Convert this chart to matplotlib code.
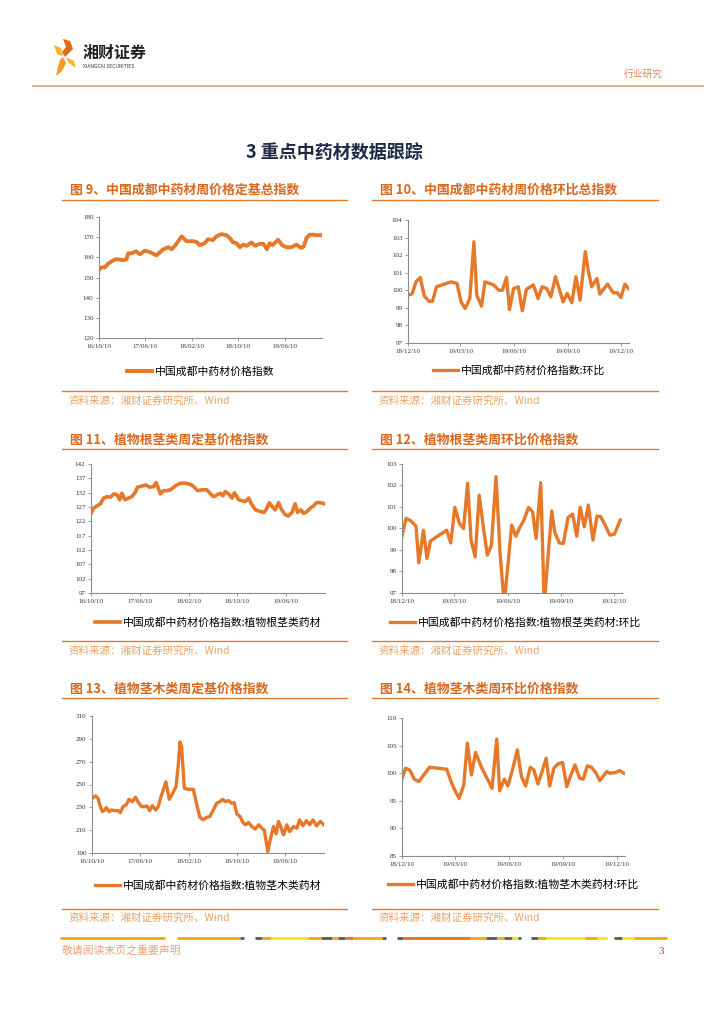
import matplotlib
matplotlib.use("Agg")
import matplotlib.pyplot as plt
import matplotlib.dates as mdates
from matplotlib.patches import Polygon
import pandas as pd

plt.rcParams['font.family'] = ['Noto Sans CJK SC', 'DejaVu Sans']

# ---------------- 数据 ----------------
# 图9 中国成都中药材周价格定基总指数
c9_dates = ['2016-10-10', '2016-10-24', '2016-11-10', '2016-11-28', '2016-12-15', '2017-01-02',
            '2017-01-20', '2017-02-15', '2017-03-03', '2017-03-12', '2017-03-29', '2017-04-21',
            '2017-05-12', '2017-06-07', '2017-07-03', '2017-08-07', '2017-09-12', '2017-10-08',
            '2017-10-25', '2017-11-12', '2017-12-17', '2018-01-12', '2018-02-17', '2018-03-07',
            '2018-03-21', '2018-04-17', '2018-05-04', '2018-05-30', '2018-06-17', '2018-07-13',
            '2018-08-08', '2018-08-26', '2018-09-12', '2018-09-30', '2018-10-18', '2018-11-04',
            '2018-11-22', '2018-12-18', '2019-01-05', '2019-01-28', '2019-02-18', '2019-03-09',
            '2019-03-23', '2019-04-06', '2019-05-06', '2019-05-28', '2019-06-18', '2019-07-14',
            '2019-08-10', '2019-09-05', '2019-09-18', '2019-10-02', '2019-10-19', '2019-11-06',
            '2019-11-23', '2019-12-19']
c9_vals = [153.8, 155, 155, 157, 158, 159, 159, 158.6, 159, 162,
           162, 163, 161.5, 163.3, 162.6, 161, 164, 165, 164, 165.7,
           170.4, 168, 168, 167.5, 166, 167, 169, 168.6, 170.4, 171.5,
           171, 169.6, 167.4, 167, 165, 166.3, 165.7, 167.4, 165.7, 166.7,
           166.7, 164, 167, 166, 168.7, 166, 165, 165, 166.3, 164.6,
           165.5, 169.6, 171.2, 171.2, 171, 171]

# 图10 中国成都中药材周价格环比总指数
c10_dates = ['2018-12-10', '2018-12-17', '2018-12-24', '2018-12-31', '2019-01-07', '2019-01-15',
             '2019-01-21', '2019-01-28', '2019-02-22', '2019-03-04', '2019-03-11', '2019-03-18',
             '2019-03-26', '2019-04-02', '2019-04-07', '2019-04-15', '2019-04-21', '2019-04-29',
             '2019-05-06', '2019-05-15', '2019-05-21', '2019-05-28', '2019-06-02', '2019-06-09',
             '2019-06-17', '2019-06-24', '2019-07-01', '2019-07-13', '2019-07-21', '2019-07-28',
             '2019-08-05', '2019-08-12', '2019-08-20', '2019-09-02', '2019-09-09', '2019-09-17',
             '2019-09-24', '2019-10-01', '2019-10-10', '2019-10-15', '2019-10-21', '2019-10-30',
             '2019-11-04', '2019-11-17', '2019-11-27', '2019-12-04', '2019-12-10', '2019-12-17',
             '2019-12-23']
c10_vals = [99.72, 99.8, 100.5, 100.73, 99.67, 99.38, 99.38, 100.2, 100.48, 100.39,
            99.34, 98.96, 99.53, 102.76, 99.72, 99.1, 100.48, 100.39, 100.3, 100.0,
            100.0, 100.73, 98.9, 100.1, 100.2, 98.83, 100.05, 100.3, 99.53, 100.2,
            100.1, 99.63, 100.77, 99.34, 99.82, 99.29, 100.77, 99.44, 102.2, 101.15,
            100.2, 100.67, 99.78, 100.35, 99.86, 99.86, 99.59, 100.35, 100.1]

# 图11 植物根茎类周定基价格指数
c11_dates = ['2016-10-10', '2016-10-23', '2016-11-09', '2016-11-26', '2016-12-12', '2016-12-29',
             '2017-01-15', '2017-02-01', '2017-02-18', '2017-03-02', '2017-03-13', '2017-03-29',
             '2017-04-15', '2017-05-02', '2017-05-18', '2017-05-30', '2017-06-21', '2017-07-12',
             '2017-07-29', '2017-08-18', '2017-08-31', '2017-09-21', '2017-10-08', '2017-10-24',
             '2017-11-10', '2017-11-27', '2017-12-13', '2017-12-30', '2018-01-24', '2018-02-19',
             '2018-03-07', '2018-03-26', '2018-04-16', '2018-05-11', '2018-05-27', '2018-06-14',
             '2018-06-30', '2018-07-17', '2018-07-30', '2018-08-11', '2018-08-28', '2018-09-14',
             '2018-09-26', '2018-10-17', '2018-11-03', '2018-11-20', '2018-12-06', '2018-12-19',
             '2019-01-09', '2019-02-03', '2019-02-20', '2019-03-04', '2019-03-19', '2019-03-31',
             '2019-04-17', '2019-05-04', '2019-05-20', '2019-06-06', '2019-06-23', '2019-07-10',
             '2019-07-26', '2019-08-07', '2019-08-24', '2019-09-06', '2019-09-23', '2019-10-10',
             '2019-10-26', '2019-11-09', '2019-11-29', '2019-12-19']
c11_vals = [124.8, 126.6, 127.4, 128.1, 130.1, 130.6, 130.4, 131.6, 131.2, 129.5,
            131.8, 129.5, 130.1, 130.6, 132.0, 133.9, 134.3, 134.7, 133.9, 134.1,
            135.5, 131.6, 132.7, 132.7, 133.0, 133.9, 134.7, 135.3, 135.3, 134.9,
            134.1, 132.7, 133.0, 133.0, 131.8, 130.6, 131.2, 131.8, 130.9, 132.4,
            131.6, 130.1, 132.0, 129.5, 129.2, 128.9, 130.1, 128.1, 126.0, 125.4,
            125.1, 126.2, 128.5, 127.4, 126.0, 128.5, 126.0, 124.3, 123.9, 125.1,
            128.1, 125.1, 126.0, 124.8, 125.4, 126.6, 127.4, 128.5, 128.5, 128.1]

# 图12 植物根茎类周环比价格指数
c12_dates = ['2018-12-10', '2018-12-17', '2018-12-25', '2019-01-03', '2019-01-08', '2019-01-16',
             '2019-01-22', '2019-01-28', '2019-02-25', '2019-03-04', '2019-03-11', '2019-03-19',
             '2019-03-26', '2019-04-02', '2019-04-08', '2019-04-15', '2019-04-22', '2019-04-29',
             '2019-05-06', '2019-05-13', '2019-05-21', '2019-05-28', '2019-06-04', '2019-06-17',
             '2019-06-24', '2019-07-01', '2019-07-08', '2019-07-16', '2019-07-23', '2019-07-29',
             '2019-08-06', '2019-08-12', '2019-08-25', '2019-08-30', '2019-09-07', '2019-09-14',
             '2019-09-22', '2019-09-30', '2019-10-07', '2019-10-13', '2019-10-20', '2019-10-27',
             '2019-11-04', '2019-11-11', '2019-11-17', '2019-11-25', '2019-12-03', '2019-12-11',
             '2019-12-21']
c12_vals = [99.64, 100.47, 100.36, 100.11, 98.4, 99.92, 98.6, 99.42, 99.92, 99.33,
            100.98, 100.23, 100.0, 102.1, 99.46, 98.68, 101.55, 100.08, 98.76, 99.22,
            102.41, 98.83, 96.5, 100.16, 99.64, 100.05, 100.39, 100.98, 100.78, 99.53,
            102.13, 96.5, 100.82, 99.84, 99.33, 99.3, 100.51, 100.67, 99.64, 100.98,
            100.08, 101.09, 99.46, 100.58, 100.55, 100.16, 99.69, 99.74, 100.39]

# 图13 植物茎木类周定基价格指数
c13_dates = ['2016-10-10', '2016-10-28', '2016-11-09', '2016-11-21', '2016-12-01', '2016-12-13',
             '2016-12-21', '2017-01-04', '2017-01-16', '2017-02-02', '2017-02-19', '2017-03-02',
             '2017-03-15', '2017-03-31', '2017-04-14', '2017-05-01', '2017-05-17', '2017-05-29',
             '2017-06-16', '2017-07-03', '2017-07-14', '2017-07-27', '2017-08-10', '2017-08-27',
             '2017-09-08', '2017-09-25', '2017-10-17', '2017-11-03', '2017-11-20', '2017-12-07',
             '2017-12-19', '2017-12-27', '2018-01-04', '2018-01-18', '2018-02-08', '2018-03-04',
             '2018-03-20', '2018-04-06', '2018-04-23', '2018-05-10', '2018-05-26', '2018-06-13',
             '2018-06-29', '2018-07-16', '2018-07-30', '2018-08-11', '2018-08-28', '2018-09-14',
             '2018-09-26', '2018-10-09', '2018-10-26', '2018-11-09', '2018-11-21', '2018-12-07',
             '2018-12-24', '2019-01-10', '2019-01-27', '2019-02-13', '2019-02-25', '2019-03-07',
             '2019-03-14', '2019-03-26', '2019-04-12', '2019-04-25', '2019-05-07', '2019-05-18',
             '2019-06-01', '2019-06-18', '2019-07-02', '2019-07-22', '2019-08-08', '2019-08-21',
             '2019-09-07', '2019-09-24', '2019-10-11', '2019-10-28', '2019-11-14', '2019-12-04',
             '2019-12-21']
c13_vals = [237.9, 240, 238, 230.6, 226.3, 227.7, 229.8, 226.3, 227.7, 227.1,
            227.1, 225.4, 230.6, 232.1, 237, 235, 238.8, 235, 230.6, 230.6,
            231.2, 227.1, 231.5, 227.7, 230.6, 240.8, 252.4, 237, 242.3, 248.1,
            268.4, 287.3, 283, 246.6, 245.8, 245.8, 233.5, 221.3, 219, 221.3,
            221.9, 227.7, 233.5, 235, 237, 235, 235.9, 233.5, 234.1, 224.2,
            221.9, 216.7, 214.7, 216.7, 213.2, 210.9, 214.7, 211.7, 209.7, 198.7,
            191.4, 201.6, 213.2, 206.8, 217.6, 213.2, 205.9, 214.7, 208.8, 213.2,
            211.7, 219, 213.8, 218.4, 214.7, 219, 213.8, 217.6, 214.7]

# 图14 植物茎木类周环比价格指数
c14_dates = ['2018-12-10', '2018-12-16', '2018-12-23', '2018-12-31', '2019-01-08', '2019-01-14',
             '2019-01-26', '2019-02-24', '2019-03-04', '2019-03-09', '2019-03-17', '2019-03-25',
             '2019-03-31', '2019-04-07', '2019-04-14', '2019-04-24', '2019-05-05', '2019-05-12',
             '2019-05-20', '2019-05-25', '2019-06-02', '2019-06-08', '2019-06-16', '2019-06-24',
             '2019-07-01', '2019-07-08', '2019-07-16', '2019-07-22', '2019-07-29', '2019-08-06',
             '2019-08-12', '2019-08-18', '2019-08-25', '2019-09-01', '2019-09-09', '2019-09-16',
             '2019-09-23', '2019-09-30', '2019-10-08', '2019-10-14', '2019-10-21', '2019-10-28',
             '2019-11-05', '2019-11-11', '2019-11-23', '2019-11-28', '2019-12-07', '2019-12-15',
             '2019-12-22']
c14_vals = [98.9, 100.9, 100.6, 98.9, 98.5, 99.4, 101.08, 100.72, 98.3, 97.1,
            95.44, 97.86, 105.45, 99.68, 103.75, 101.08, 98.77, 97.26, 106.18, 96.83,
            98.9, 97.68, 100.72, 104.24, 99.38, 97.68, 101.08, 100.6, 98.05, 100.6,
            102.72, 97.68, 100.9, 101.69, 101.93, 97.56, 99.68, 101.5, 99.08, 98.9,
            101.32, 101.08, 99.99, 98.65, 100.3, 99.99, 100.1, 100.47, 99.99]

long_ticks = ['2016-10-10', '2017-06-10', '2018-02-10', '2018-10-10', '2019-06-10']
short_ticks = ['2018-12-10', '2019-03-10', '2019-06-10', '2019-09-10', '2019-12-10']

# 页脚彩条
footer_segments = [(60, 165, 'o'), (177, 240, 'o'), (240, 244, 'g'), (255, 262, 'g'), (262, 271, 'o'),
                   (271, 308, 'y'), (308, 321, 'o'), (321, 332, 'g'), (332, 338, 'o'), (338, 345, 'g'),
                   (345, 353, 'd'), (353, 382, 'o'), (382, 386, 'g'), (397, 403, 'g'), (403, 470, 'd'),
                   (470, 486, 'o'), (486, 497, 'g'), (497, 504, 'o'), (504, 512, 'g'), (512, 518, 'y'),
                   (518, 521, 'k'), (531, 538, 'g'), (538, 546, 'o'), (546, 585, 'y'), (585, 597, 'o'),
                   (597, 607, 'y'), (614, 622, 'g'), (622, 634, 'y'), (634, 667, 'o')]
seg_colors = {'o': '#F5A800', 'g': '#5a5a5a', 'y': '#FFE600', 'd': '#E0701A', 'k': '#1a7a3a'}

# ---------------- 画图 ----------------
W, H = 724, 1024
LINE_C = '#E6782A'
TITLE_C = '#D8681E'
SRC_C = '#EBA264'
SPINE_C = '#8c8c8c'

fig = plt.figure(figsize=(W / 100, H / 100), dpi=100)

# 页面层，像素坐标
page = fig.add_axes([0, 0, 1, 1])
page.set_xlim(0, W)
page.set_ylim(H, 0)
page.axis('off')

# logo
page.add_patch(Polygon([(63, 39), (70, 41), (73, 49), (65, 57), (62, 52), (66, 47)], color='#E06A1B', lw=0))
page.add_patch(Polygon([(54, 45), (61, 48), (63, 56), (57, 54)], color='#F7B32B', lw=0))
page.add_patch(Polygon([(63, 57), (66, 63), (62, 71), (56, 76), (58, 67), (60, 60)], color='#F29A2E', lw=0))
page.add_patch(Polygon([(66, 57), (74, 61), (76, 68), (69, 63)], color='#F7B32B', lw=0))
page.text(83, 53, '湘财证券', fontsize=11.5, fontweight='bold', color='#222222', va='center', ha='left')
page.text(83, 67, 'XIANGCAI SECURITIES', fontsize=3.6, color='#333333', va='center', ha='left')
page.text(643, 74, '行业研究', fontsize=7, color='#D98B5F', va='center', ha='center')
page.plot([33, 703], [86, 86], color='#D9A07A', lw=1.2)

page.text(334, 152, '3 重点中药材数据跟踪', fontsize=13, fontweight='bold', color='#1F2A44',
          ha='center', va='center')

# 每行标题/来源的位置: (标题y, 下划线y, 来源线y, 来源文字y)
rows = [(190, 200, 391, 401), (440, 449, 641, 651), (689, 698, 909, 918)]
titles = [('图 9、中国成都中药材周价格定基总指数', '图 10、中国成都中药材周价格环比总指数'),
          ('图 11、植物根茎类周定基价格指数', '图 12、植物根茎类周环比价格指数'),
          ('图 13、植物茎木类周定基价格指数', '图 14、植物茎木类周环比价格指数')]
for (ty, uy, sy, sty), (t_left, t_right) in zip(rows, titles):
    for x0, x1, txt in [(62, 347, t_left), (372, 658, t_right)]:
        page.text(x0 + 8, ty, txt, fontsize=9.3, fontweight='bold', color=TITLE_C, va='center', ha='left')
        page.plot([x0, x1], [uy, uy], color=LINE_C, lw=1.0)
        page.plot([x0, x1], [sy, sy], color=LINE_C, lw=1.0)
        page.text(x0 + 7, sty, '资料来源：湘财证券研究所、Wind', fontsize=7.6, color=SRC_C,
                  va='center', ha='left')

# 页脚
for x0, x1, c in footer_segments:
    page.plot([x0, x1], [938, 938], color=seg_colors[c], lw=2, solid_capstyle='butt')
page.text(62, 951, '敬请阅读末页之重要声明', fontsize=7.8, color='#E8A070', va='center', ha='left')
page.text(661, 951, '3', fontsize=8, color='#C8304A', va='center', ha='center', family='Liberation Serif')


def panel(rect, dates, vals, yticks, xticks, xlim, label, leg_xy, lw):
    x0, y0, x1, y1 = rect
    ax = fig.add_axes([x0 / W, 1 - y1 / H, (x1 - x0) / W, (y1 - y0) / H])
    ax.plot(pd.to_datetime(dates), vals, color=LINE_C, lw=lw, label=label)
    ax.set_ylim(yticks[0], yticks[-1])
    ax.set_yticks(yticks)
    ax.set_xlim(pd.to_datetime(xlim[0]), pd.to_datetime(xlim[1]))
    ax.set_xticks(pd.to_datetime(xticks))
    ax.xaxis.set_major_formatter(mdates.DateFormatter('%y/%m/%d'))
    for s in ['top', 'right']:
        ax.spines[s].set_visible(False)
    for s in ['left', 'bottom']:
        ax.spines[s].set_color(SPINE_C)
        ax.spines[s].set_linewidth(0.8)
    ax.tick_params(labelsize=5, length=2, width=0.6, color=SPINE_C, labelcolor='#333333', pad=2)
    for lbl in ax.get_xticklabels() + ax.get_yticklabels():
        lbl.set_fontfamily('Liberation Serif')
    ax.patch.set_alpha(0)
    ax.legend(loc='center left', bbox_to_anchor=(leg_xy[0] / W, 1 - leg_xy[1] / H),
              bbox_transform=fig.transFigure, frameon=False, fontsize=7.8,
              handlelength=2.3, handletextpad=0.3, borderpad=0, borderaxespad=0)
    return ax


long_lim = ('2016-10-10', '2019-12-22')
short_lim = ('2018-12-10', '2019-12-24')

panel((99, 217, 322, 338), c9_dates, c9_vals, list(range(120, 181, 10)), long_ticks, long_lim,
      '中国成都中药材价格指数', (127, 372), 2.8)
panel((408, 220, 629, 343), c10_dates, c10_vals, list(range(97, 105)), short_ticks, short_lim,
      '中国成都中药材价格指数:环比', (433, 371), 2.4)
panel((91, 464, 325, 593), c11_dates, c11_vals, list(range(97, 143, 5)), long_ticks, long_lim,
      '中国成都中药材价格指数:植物根茎类药材', (95, 623), 2.6)
panel((402, 464, 622, 593), c12_dates, c12_vals, list(range(97, 104)), short_ticks, short_lim,
      '中国成都中药材价格指数:植物根茎类药材:环比', (390, 623), 2.4)
panel((92, 716, 324, 853), c13_dates, c13_vals, list(range(190, 311, 20)), long_ticks, long_lim,
      '中国成都中药材价格指数:植物茎木类药材', (95, 886), 2.4)
panel((402, 718, 625, 856), c14_dates, c14_vals, list(range(85, 111, 5)), short_ticks, short_lim,
      '中国成都中药材价格指数:植物茎木类药材:环比', (388, 885), 2.4)

fig.savefig('out.png', dpi=100)
